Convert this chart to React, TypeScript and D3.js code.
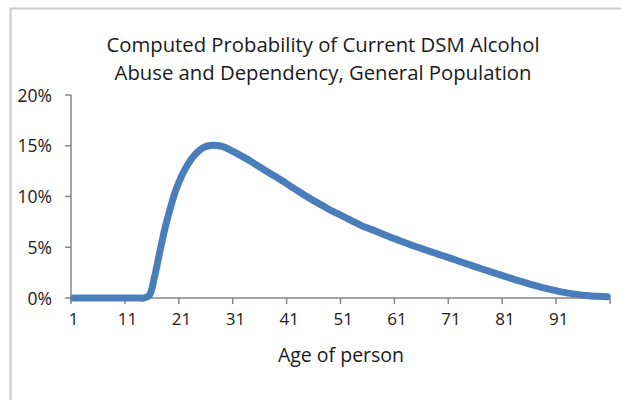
import React from "react";
import * as d3 from "d3";

const titleLines = [
  "Computed Probability of Current DSM Alcohol",
  "Abuse and Dependency, General Population",
];
const xAxisTitle = "Age of person";

const ages: number[] = Array.from({ length: 100 }, (_, i) => i + 1);

// probability (%) per age 1..100
const probabilityPct: number[] = [
  0, 0, 0, 0, 0, 0, 0, 0, 0, 0,
  0, 0, 0, 0, 0.25, 2.1, 4.6, 7.0, 9.0, 10.7,
  12.0, 13.0, 13.8, 14.4, 14.8, 15.0, 15.05, 15.0, 14.85, 14.6,
  14.32, 14.03, 13.73, 13.41, 13.08, 12.75, 12.42, 12.1, 11.78, 11.45,
  11.1, 10.75, 10.42, 10.08, 9.75, 9.45, 9.15, 8.85, 8.55, 8.3,
  8.05, 7.78, 7.5, 7.24, 7.0, 6.8, 6.6, 6.38, 6.15, 5.95,
  5.75, 5.55, 5.35, 5.15, 4.97, 4.79, 4.61, 4.43, 4.25, 4.08,
  3.9, 3.72, 3.53, 3.35, 3.17, 2.99, 2.82, 2.65, 2.47, 2.3,
  2.13, 1.96, 1.79, 1.63, 1.47, 1.32, 1.17, 1.03, 0.9, 0.78,
  0.66, 0.55, 0.46, 0.38, 0.31, 0.25, 0.2, 0.17, 0.15, 0.13,
];

const yTicks = [0, 0.05, 0.1, 0.15, 0.2];
const xLabelAges = [1, 11, 21, 31, 41, 51, 61, 71, 81, 91];
const xTickBoundaries = [0, 10, 20, 30, 40, 50, 60, 70, 80, 90, 100];

export default function App() {
  const W = 621;
  const H = 400;
  const left = 71;
  const right = 610;
  const top = 95;
  const bottom = 298;
  const font = "'Open Sans', 'Noto Sans', sans-serif";

  const x = d3.scaleLinear().domain([0.5, 100.5]).range([left, right]);
  const y = d3.scaleLinear().domain([0, 0.2]).range([bottom, top]);

  const data = ages.map((a, i) => ({ a, v: probabilityPct[i] / 100 }));
  const line = d3
    .line<{ a: number; v: number }>()
    .x((d) => x(d.a))
    .y((d) => y(d.v))
    .curve(d3.curveCatmullRom.alpha(0.5));

  const axisColor = "#868686";
  const fmt = d3.format(".0%");

  return (
    <svg
      width={W}
      height={H}
      style={{ position: "absolute", left: 0, top: 0, background: "#fff" }}
    >
      <rect x={0} y={0} width={W} height={H} fill="#fff" />
      <path
        d={`M10.5,${H + 5} L10.5,8.5 L${W + 5},8.5`}
        fill="none"
        stroke="#c9c9c9"
        strokeWidth={2}
      />
      {titleLines.map((t, i) => (
        <text
          key={i}
          x={323}
          y={52 + i * 28}
          textAnchor="middle"
          fontFamily={font}
          fontSize={20.3}
          fill="#1a1a1a"
        >
          {t}
        </text>
      ))}
      {/* y axis */}
      <line x1={left} x2={left} y1={top} y2={bottom} stroke={axisColor} strokeWidth={1.5} />
      {yTicks.map((t) => (
        <g key={t}>
          <line x1={left - 6} x2={left} y1={y(t)} y2={y(t)} stroke={axisColor} strokeWidth={1.5} />
          <text
            x={left - 19}
            y={y(t) + 6.5}
            textAnchor="end"
            fontFamily={font}
            fontSize={17.5}
            fill="#1a1a1a"
          >
            {fmt(t)}
          </text>
        </g>
      ))}
      {/* x axis */}
      <line x1={left} x2={right} y1={bottom} y2={bottom} stroke={axisColor} strokeWidth={1.5} />
      {xTickBoundaries.map((b) => (
        <line
          key={b}
          x1={x(b + 0.5)}
          x2={x(b + 0.5)}
          y1={bottom}
          y2={bottom + 6}
          stroke={axisColor}
          strokeWidth={1.5}
        />
      ))}
      {xLabelAges.map((a) => (
        <text
          key={a}
          x={x(a)}
          y={bottom + 27}
          textAnchor="middle"
          fontFamily={font}
          fontSize={17}
          fill="#1a1a1a"
        >
          {a}
        </text>
      ))}
      <text
        x={341}
        y={361.5}
        textAnchor="middle"
        fontFamily={font}
        fontSize={19.5}
        fill="#1a1a1a"
      >
        {xAxisTitle}
      </text>
      <path
        d={line(data) || ""}
        fill="none"
        stroke="#4a7ebb"
        strokeWidth={7}
        strokeLinecap="round"
        strokeLinejoin="round"
      />
    </svg>
  );
}
